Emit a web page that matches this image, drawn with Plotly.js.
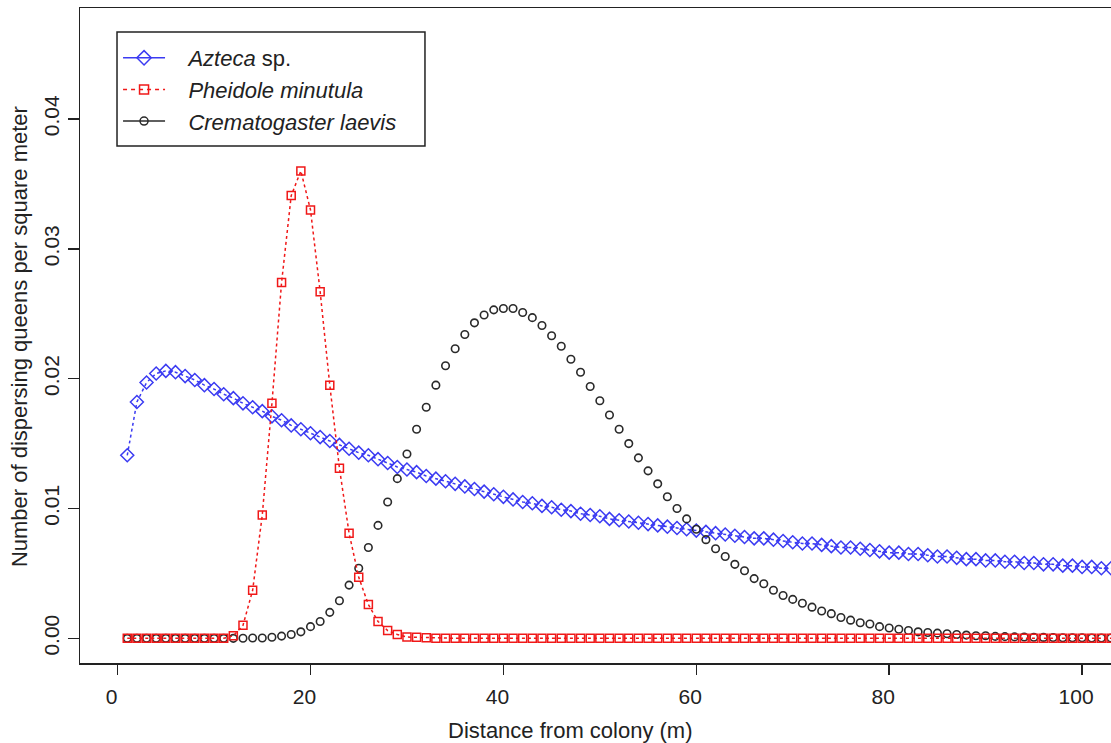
<!DOCTYPE html>
<html>
<head>
<meta charset="utf-8">
<script src="https://cdn.plot.ly/plotly-3.0.1.min.js"></script>
<style>html,body{margin:0;padding:0;background:#fff}#chart{width:1111px;height:743px}</style>
</head>
<body>
<div id="chart"></div>
<script>
// Distance from colony (m)
var distance = [];
for (var i = 1; i <= 104; i++) distance.push(i);

var seriesNames = ["<i>Azteca</i> sp.", "<i>Pheidole minutula</i>", "<i>Crematogaster laevis</i>"];

var azteca = [
0.0141,0.0182,0.0197,0.0204,0.0206,0.0205,0.0202,0.0199,0.0195,0.0192,
0.0188,0.0185,0.0181,0.0178,0.0175,0.0171,0.0168,0.0164,0.0161,0.0158,
0.0155,0.0152,0.0149,0.0146,0.0143,0.0141,0.0138,0.0135,0.0132,0.0130,
0.0128,0.0125,0.0123,0.0121,0.0119,0.0117,0.0115,0.0113,0.0111,0.0109,
0.0107,0.0105,0.0104,0.0102,0.0101,0.0099,0.0098,0.0096,0.0095,0.0094,
0.0092,0.0091,0.0090,0.0089,0.0088,0.0087,0.0086,0.0085,0.0084,0.0083,
0.0082,0.0081,0.0080,0.0079,0.0078,0.0077,0.0077,0.0076,0.0075,0.0074,
0.0073,0.0073,0.0072,0.0071,0.0070,0.0070,0.0069,0.0068,0.0067,0.0066,
0.0066,0.0065,0.0065,0.0064,0.0063,0.0063,0.0062,0.0061,0.0061,0.0060,
0.0060,0.0059,0.0059,0.0058,0.0058,0.0057,0.0057,0.0056,0.0056,0.0055,
0.0055,0.0054,0.0054,0.0053];

var pheidole = [
0,0,0,0,0,0,0,0,0,0,
0,0.0002,0.0010,0.0037,0.0095,0.0181,0.0274,0.0341,0.0360,0.0330,
0.0267,0.0195,0.0131,0.0081,0.0047,0.0026,0.0013,0.0006,0.0003,0.0001,
0.00008,0.00005,0,0,0,0,0,0,0,0,
0,0,0,0,0,0,0,0,0,0,
0,0,0,0,0,0,0,0,0,0,
0,0,0,0,0,0,0,0,0,0,
0,0,0,0,0,0,0,0,0,0,
0,0,0,0,0,0,0,0,0,0,
0,0,0,0,0,0,0,0,0,0,
0,0,0,0];

var crematogaster = [
0,0,0,0,0,0,0,0,0,0,
0,0,0.00001,0.00002,0.00003,0.00008,0.00017,0.0003,0.0005,0.0009,
0.0013,0.0020,0.0029,0.0041,0.0054,0.0070,0.0087,0.0105,0.0123,0.0142,
0.0161,0.0178,0.0195,0.0210,0.0223,0.0234,0.0243,0.0249,0.0253,0.0254,
0.0254,0.0251,0.0247,0.0241,0.0233,0.0225,0.0215,0.0205,0.0194,0.0183,
0.0172,0.0161,0.0150,0.0139,0.0129,0.0119,0.0109,0.0100,0.0092,0.0084,
0.0076,0.0069,0.0063,0.0057,0.0052,0.0046,0.0042,0.0037,0.0033,0.0030,
0.0027,0.0024,0.0021,0.0019,0.0016,0.0014,0.0012,0.0011,0.0009,0.0008,
0.0007,0.0006,0.0005,0.00045,0.0004,0.00035,0.0003,0.00025,0.0002,0.0002,
0.00015,0.00013,0.00011,0.0001,0.00008,0.00007,0.00006,0.00005,0.00004,0.00004,
0.00003,0.00003,0.00002,0.00002];

var xTicks = [0, 20, 40, 60, 80, 100];
var yTicks = [0, 0.01, 0.02, 0.03, 0.04];
var yTickText = ["0.00", "0.01", "0.02", "0.03", "0.04"];

var BLUE = "#3b3bf2", RED = "#f01818", BLACK = "#2a2a2a";
var FONT = "Liberation Sans, Arial, sans-serif";
var PAD = "\u00a0\u00a0\u00a0";

var traces = [
  {x: distance, y: azteca, type: "scatter", mode: "lines+markers", showlegend: false,
   line: {color: BLUE, width: 1.5, dash: "3px,3px"},
   marker: {symbol: "diamond-open", size: 10, color: BLUE, line: {width: 1.5, color: BLUE}}},
  {x: distance, y: crematogaster, type: "scatter", mode: "markers", showlegend: false,
   marker: {symbol: "circle-open", size: 7.5, color: BLACK, line: {width: 1.6, color: BLACK}}},
  {x: distance, y: pheidole, type: "scatter", mode: "lines+markers", showlegend: false,
   line: {color: RED, width: 1.5, dash: "3px,3px"},
   marker: {symbol: "square-open", size: 8, color: RED, line: {width: 1.5, color: RED}}},
  // legend entries
  {x: [null], y: [null], type: "scatter", mode: "lines+markers", name: PAD + seriesNames[0],
   line: {color: BLUE, width: 1.5}, marker: {symbol: "diamond-open", size: 11, color: BLUE, line: {width: 1.5, color: BLUE}}},
  {x: [null], y: [null], type: "scatter", mode: "lines+markers", name: PAD + seriesNames[1],
   line: {color: RED, width: 1.5, dash: "4px,4px"}, marker: {symbol: "square-open", size: 9, color: RED, line: {width: 1.5, color: RED}}},
  {x: [null], y: [null], type: "scatter", mode: "lines+markers", name: PAD + seriesNames[2],
   line: {color: BLACK, width: 1.5}, marker: {symbol: "circle-open", size: 8, color: BLACK, line: {width: 1.5, color: BLACK}}}
];

var layout = {
  width: 1111, height: 743,
  margin: {l: 80, r: 0, t: 8, b: 80},
  paper_bgcolor: "#fff", plot_bgcolor: "#fff",
  font: {family: FONT, size: 21, color: "#222"},
  showlegend: true,
  legend: {
    x: 0.0369, y: 0.9557, xanchor: "left", yanchor: "top",
    bgcolor: "rgba(0,0,0,0)", borderwidth: 0,
    font: {family: FONT, size: 22, color: "#222"},
    itemwidth: 42, tracegroupgap: 0
  },
  shapes: [
    {type: "rect", xref: "paper", yref: "paper", x0: 0.0359, x1: 0.3346, y0: 0.7893, y1: 0.9634,
     line: {color: "#222", width: 1.5}, fillcolor: "#fff", layer: "above"}
  ],
  xaxis: {
    range: [-3.9, 103.0], tickmode: "array", tickvals: xTicks,
    ticks: "outside", ticklen: 10, tickwidth: 1.5, tickcolor: "#222",
    showline: true, linecolor: "#222", linewidth: 1.5, mirror: true,
    showgrid: false, zeroline: false,
    tickfont: {family: FONT, size: 21, color: "#222"}, ticklabelstandoff: 4, ticklabelshift: -6
  },
  yaxis: {
    range: [-0.0019, 0.04855], tickmode: "array", tickvals: yTicks, ticktext: yTickText,
    ticks: "outside", ticklen: 11, tickwidth: 1.5, tickcolor: "#222", tickangle: -90,
    showline: true, linecolor: "#222", linewidth: 1.5,
    showgrid: false, zeroline: false,
    tickfont: {family: FONT, size: 21, color: "#222"}, ticklabelstandoff: 0
  },
  annotations: [
    {text: "Distance from colony (m)", xref: "paper", yref: "paper",
     x: 0.4753, y: -0.1023, xanchor: "center", yanchor: "middle", showarrow: false,
     font: {family: FONT, size: 22, color: "#222"}},
    {text: "Number of dispersing queens per square meter", xref: "paper", yref: "paper",
     x: -0.0592, y: 0.499, xanchor: "center", yanchor: "middle", showarrow: false, textangle: -90,
     font: {family: FONT, size: 22, color: "#222"}}
  ]
};

Plotly.newPlot("chart", traces, layout, {displayModeBar: false, staticPlot: true});
</script>
</body>
</html>
